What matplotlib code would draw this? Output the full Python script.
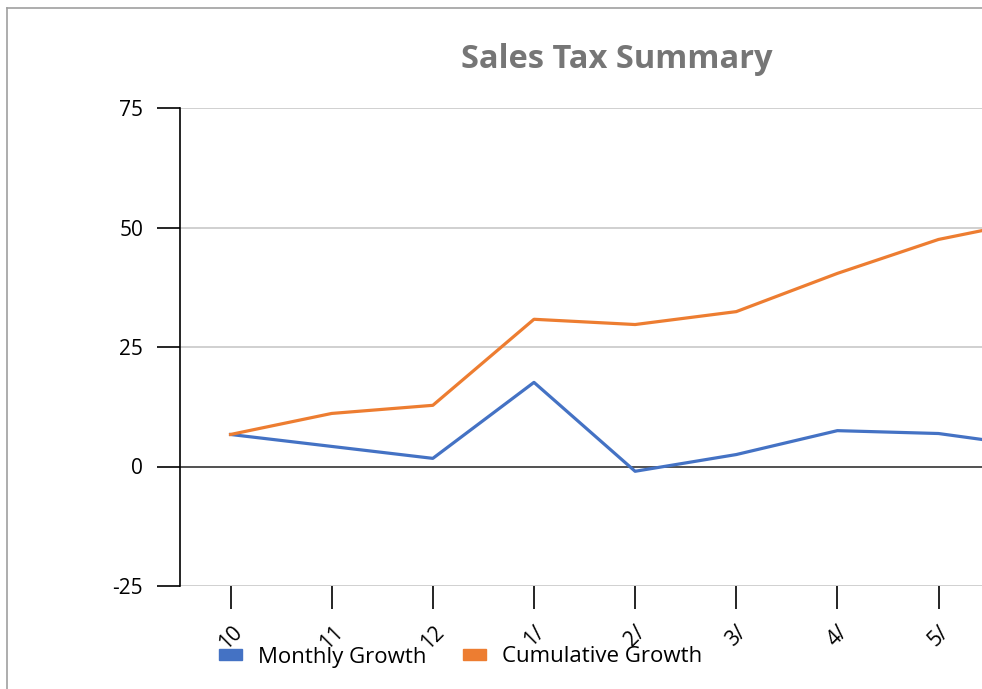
import matplotlib
matplotlib.use("Agg")
import matplotlib.pyplot as plt
from matplotlib.patches import Patch
from matplotlib.lines import Line2D

categories = ["10", "11", "12", "1/", "2/", "3/", "4/", "5/", "6/"]
monthly_growth = [6.7, 4.2, 1.7, 17.6, -1.0, 2.5, 7.5, 6.9, 4.0]
cumulative_growth = [6.7, 11.1, 12.8, 30.8, 29.7, 32.4, 40.4, 47.5, 51.8]
y_ticks = [-25, 0, 25, 50, 75]

plt.rcParams['font.family'] = ['Open Sans', 'DejaVu Sans']

W, H = 982, 689
fig = plt.figure(figsize=(W / 100, H / 100), dpi=100)

# figure border (left and top only, clipped on right/bottom)
fig.add_artist(Line2D([7 / W, 7 / W], [0, 1 - 8 / H], transform=fig.transFigure,
                      color="#a0a0a0", lw=1.2))
fig.add_artist(Line2D([7 / W, 1], [1 - 8 / H, 1 - 8 / H], transform=fig.transFigure,
                      color="#a0a0a0", lw=1.2))

ax = fig.add_axes([180 / W, 1 - 586 / H, 1 - 180 / W, (586 - 108) / H])
x = list(range(len(categories)))
ax.plot(x, monthly_growth, color="#4472C4", lw=2.3, label="Monthly Growth", zorder=3)
ax.plot(x, cumulative_growth, color="#ED7D31", lw=2.3, label="Cumulative Growth", zorder=3)

ax.set_xticks(x)
ax.set_xticklabels(categories, rotation=45, fontsize=15, ha="center")
ax.set_yticks(y_ticks)
ax.set_yticklabels([str(v) for v in y_ticks], fontsize=15)
ax.set_xlim(-0.5, 7.43)
ax.set_ylim(-25, 75)

for v in [-25, 25, 50, 75]:
    ax.axhline(v, color="#c8c8c8", lw=1.2, zorder=1)
ax.axhline(0, color="#333333", lw=1.2, zorder=2)

for s in ["top", "right", "bottom"]:
    ax.spines[s].set_visible(False)
ax.spines["left"].set_color("black")
ax.spines["left"].set_linewidth(1.2)
ax.tick_params(axis="y", direction="out", length=16.5, width=1.2, pad=10)
ax.tick_params(axis="x", direction="out", length=16.5, width=1.2, pad=9)

fig.text(617 / W, 1 - 60 / H, "Sales Tax Summary", ha="center", va="center",
         fontsize=23.5, fontweight="bold", color="#767676")

handles = [Patch(color="#4472C4", label="Monthly Growth"),
           Patch(color="#ED7D31", label="Cumulative Growth")]
fig.legend(handles=handles, loc="center", bbox_to_anchor=(461 / W, 1 - 657 / H),
           ncol=2, frameon=False, fontsize=16, handlelength=1.0, handleheight=0.36,
           columnspacing=1.65, handletextpad=0.75, borderpad=0, borderaxespad=0)

fig.savefig("out.png", dpi=100)
